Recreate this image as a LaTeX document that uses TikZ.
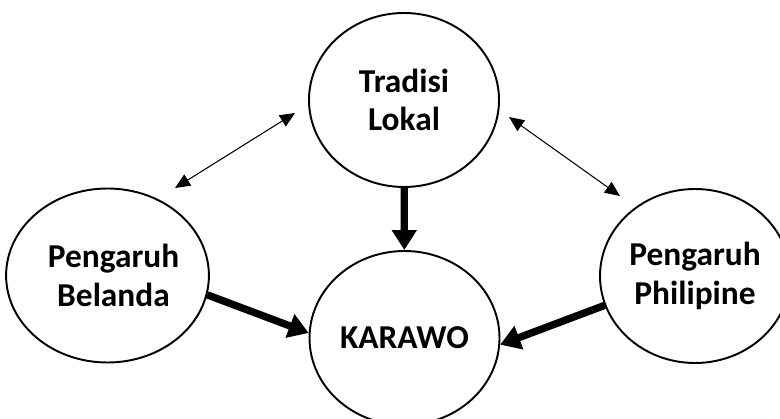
\documentclass[tikz,border=0pt]{standalone}
\usepackage{fontspec}
\setmainfont{Carlito}
\usetikzlibrary{shapes.geometric,arrows.meta}

\begin{document}
\begin{tikzpicture}
  [node_style/.style={ellipse,draw,line width=1.1pt,minimum width=3.8cm,minimum height=3.48cm,inner sep=0pt,align=center,font=\fontsize{19}{22}\selectfont\bfseries},
   edge_style/.style={draw=black,line width=4.2pt,-{Triangle[length=0.4cm,width=0.48cm]}},
   link_style/.style={draw=black,line width=0.6pt,{Triangle[length=0.3cm,width=0.26cm]}-{Triangle[length=0.3cm,width=0.26cm]}}]
  \useasboundingbox (0,0) rectangle (15.6,8.38);
  \node[node_style] (trad) at (8.08,6.38) {Tradisi\\Lokal};
  \node[node_style] (bel) at (2.15,2.87) {\hspace*{0.24cm}Pengaruh\\\hspace*{0.24cm}Belanda};
  \node[node_style] (kar) at (8.09,1.62) {\raisebox{-0.08cm}{KARAWO}};
  \node[node_style] (phil) at (13.9,2.86) {Pengaruh\\Philipine};
  \coordinate (bt) at (3.5,4.62);
  \coordinate (tb) at (5.9,6.12);
  \coordinate (tp) at (10.18,6.04);
  \coordinate (pt) at (12.4,4.46);
  \draw[link_style] (bt) -- (tb);
  \draw[link_style] (tp) -- (pt);
  \draw[edge_style] (trad) -- (kar);
  \draw[edge_style] (bel.-11) -- (kar.177);
  \draw[edge_style] (phil.198) -- (kar.-4);
\end{tikzpicture}
\end{document}
